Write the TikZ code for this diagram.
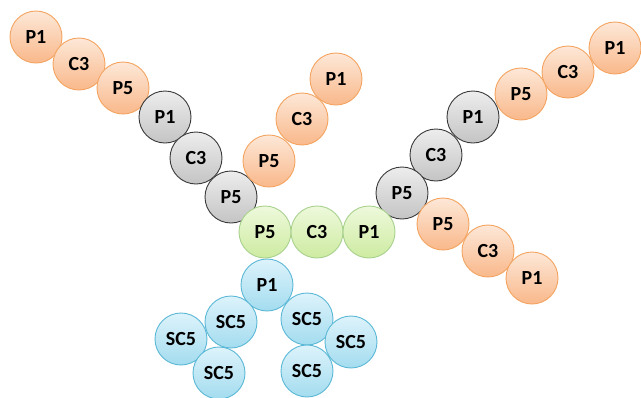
\documentclass[tikz,border=0pt]{standalone}
\usepackage{fontspec}
\setmainfont{Carlito}
\begin{document}
\begin{tikzpicture}[x=1pt,y=-1pt,
  ball/.style={circle,minimum size=52pt,inner sep=0pt,line width=0.9pt,
    font=\fontsize{20}{20}\selectfont\bfseries,text=black},
  orangeball/.style={ball,draw=ora,top color=oratop,bottom color=orabot},
  grayball/.style={ball,draw=gryd,top color=grytop,bottom color=grybot},
  greenball/.style={ball,draw=grnd,top color=grntop,bottom color=grnbot},
  blueball/.style={ball,draw=blud,top color=blutop,bottom color=blubot}]
\definecolor{ora}{HTML}{F4A460}
\definecolor{oratop}{HTML}{FDE8D8}
\definecolor{orabot}{HTML}{F9B88A}
\definecolor{gryd}{HTML}{3A3A3A}
\definecolor{grytop}{HTML}{EDEDED}
\definecolor{grybot}{HTML}{C4C4C4}
\definecolor{grnd}{HTML}{A9D18E}
\definecolor{grntop}{HTML}{EEF9DC}
\definecolor{grnbot}{HTML}{CDEBA0}
\definecolor{blud}{HTML}{5BB8D6}
\definecolor{blutop}{HTML}{DDF3FB}
\definecolor{blubot}{HTML}{A3DCEF}
\useasboundingbox[fill=white] (0,0) rectangle (641,397);
% top-left orange chain
\node[orangeball] (a1) at (36,37) {P1};
\node[orangeball] (a2) at (79,64) {C3};
\node[orangeball] (a3) at (123,88) {P5};
% left gray chain
\node[grayball] (b1) at (165,117) {P1};
\node[grayball] (b2) at (196,158) {C3};
\node[grayball] (b3) at (231,197) {P5};
% middle orange chain
\node[orangeball] (c1) at (336,79) {P1};
\node[orangeball] (c2) at (302,119) {C3};
\node[orangeball] (c3) at (269,161) {P5};
% top-right orange chain
\node[orangeball] (d1) at (615,48) {P1};
\node[orangeball] (d2) at (568,72) {C3};
\node[orangeball] (d3) at (521,94) {P5};
% right gray chain
\node[grayball] (e1) at (473,117) {P1};
\node[grayball] (e2) at (436,155) {C3};
\node[grayball] (e3) at (402,193) {P5};
% lower-right orange chain
\node[orangeball] (f1) at (443,224) {P5};
\node[orangeball] (f2) at (488,251) {C3};
\node[orangeball] (f3) at (532,278) {P1};
% blue group
\node[blueball] (h0) at (267,285) {P1};
\node[blueball] (h1) at (231,322) {SC5};
\node[blueball] (h2) at (181,339) {SC5};
\node[blueball] (h3) at (219,373) {SC5};
\node[blueball] (h4) at (307,319) {SC5};
\node[blueball] (h5) at (351,342) {SC5};
\node[blueball] (h6) at (307,371) {SC5};
% green core
\node[greenball] (g1) at (265,232) {P5};
\node[greenball] (g2) at (317,232) {C3};
\node[greenball] (g3) at (369,232) {P1};
\end{tikzpicture}
\end{document}
